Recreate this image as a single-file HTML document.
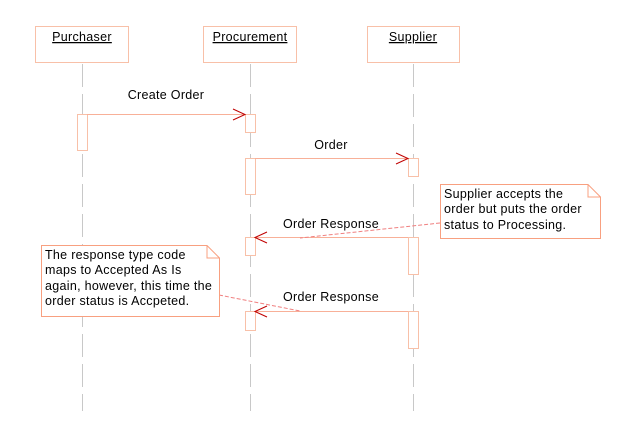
<!DOCTYPE html>
<html><head><style>body{margin:0;background:#fff}svg{display:block}text{font-family:"Liberation Sans",sans-serif;font-size:12.5px;letter-spacing:0.3px;fill:#000}</style></head><body>
<svg width="639" height="435" viewBox="0 0 639 435">
<g stroke="#c8c8c8" stroke-width="1" stroke-dasharray="23,7">
<line x1="82.5" y1="64" x2="82.5" y2="411"/>
<line x1="250.5" y1="64" x2="250.5" y2="411"/>
<line x1="413.5" y1="64" x2="413.5" y2="411"/>
</g>
<g fill="#fff" stroke="#f8c0a8" stroke-width="1">
<rect x="35.5" y="26.5" width="93" height="36"/>
<rect x="203.5" y="26.5" width="93" height="36"/>
<rect x="367.5" y="26.5" width="92" height="36"/>
<rect x="77.5" y="114.5" width="10" height="36"/>
<rect x="245.5" y="114.5" width="10" height="18"/>
<rect x="245.5" y="158.5" width="10" height="36"/>
<rect x="245.5" y="237.5" width="10" height="18"/>
<rect x="245.5" y="311.5" width="10" height="19"/>
<rect x="408.5" y="158.5" width="10" height="18"/>
<rect x="408.5" y="237.5" width="10" height="37"/>
<rect x="408.5" y="311.5" width="10" height="37"/>
</g>
<g stroke="#f8b098" stroke-width="1">
<line x1="87" y1="114.5" x2="245" y2="114.5"/>
<line x1="255" y1="158.5" x2="408" y2="158.5"/>
<line x1="408" y1="237.5" x2="255" y2="237.5"/>
<line x1="408" y1="311.5" x2="255" y2="311.5"/>
</g>
<g stroke="#c00000" stroke-width="1" fill="none">
<polyline points="233,109 245,114.5 233,120"/>
<polyline points="396,153 408,158.5 396,164"/>
<polyline points="267,232 255,237.5 267,243"/>
<polyline points="267,306 255,311.5 267,317"/>
</g>
<g stroke="#f08080" stroke-width="1" stroke-dasharray="4,2">
<line x1="440" y1="223" x2="300" y2="238"/>
<line x1="219" y1="295" x2="300" y2="311"/>
</g>
<g fill="#fff" stroke="#f8a080" stroke-width="1">
<path d="M440.5 184.5 H588 L600.5 197 V238.5 H440.5 Z"/>
<path d="M588 184.5 V197 H600.5" fill="none"/>
<path d="M41.5 245.5 H207 L219.5 258 V316.5 H41.5 Z"/>
<path d="M207 245.5 V258 H219.5" fill="none"/>
</g>
<text x="82" y="41" text-anchor="middle" text-decoration="underline">Purchaser</text>
<text x="250" y="41" text-anchor="middle" text-decoration="underline">Procurement</text>
<text x="413" y="41" text-anchor="middle" text-decoration="underline">Supplier</text>
<text x="166" y="99" text-anchor="middle">Create Order</text>
<text x="331" y="149" text-anchor="middle">Order</text>
<text x="331" y="228" text-anchor="middle">Order Response</text>
<text x="331" y="301" text-anchor="middle">Order Response</text>
<text x="444" y="198">Supplier accepts the</text>
<text x="444" y="213">order but puts the order</text>
<text x="444" y="229">status to Processing.</text>
<text x="45" y="259">The response type code</text>
<text x="45" y="274">maps to Accepted As Is</text>
<text x="45" y="290">again, however, this time the</text>
<text x="45" y="305">order status is Accpeted.</text>
</svg>
</body></html>
